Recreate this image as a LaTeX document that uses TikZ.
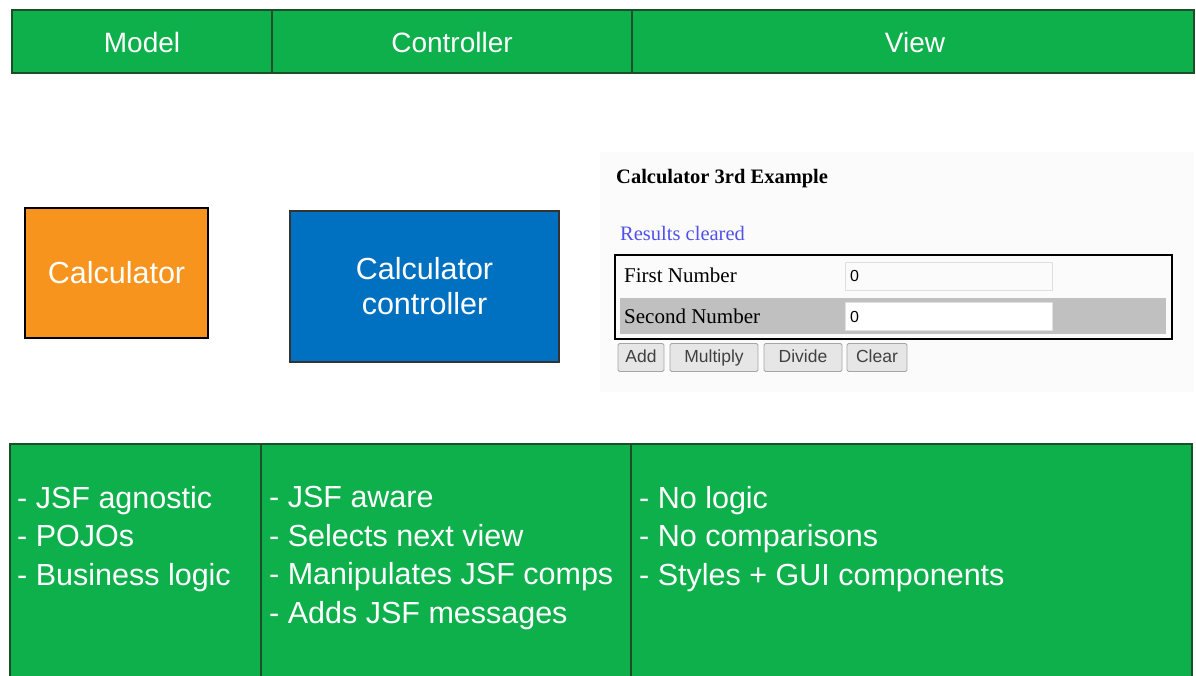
\documentclass[tikz,border=0pt]{standalone}
\usepackage{fontspec}
\setmainfont{Liberation Sans}
\newfontfamily\serifshot{Liberation Serif}
\definecolor{mvcgreen}{RGB}{14,176,75}
\definecolor{mvcedge}{RGB}{28,78,42}
\definecolor{calcorange}{RGB}{247,148,30}
\definecolor{calcblue}{RGB}{0,112,192}
\definecolor{shotbg}{RGB}{251,251,251}
\definecolor{rowgrey}{RGB}{192,192,192}
\definecolor{linkblue}{RGB}{80,80,235}
\definecolor{btnfill}{RGB}{230,230,230}
\begin{document}
\begin{tikzpicture}[x=1pt,y=-1pt,
  bar/.style={fill=mvcgreen,draw=mvcedge,line width=1.6pt},
  headtxt/.style={text=white,font=\fontsize{28}{32}\selectfont,inner sep=0pt},
  listtxt/.style={text=white,font=\fontsize{30.5}{38.5}\selectfont,align=left,anchor=north west,inner sep=0pt},
  boxtxt/.style={text=white,font=\fontsize{30.5}{35}\selectfont,align=center},
  shottxt/.style={font=\serifshot\fontsize{21}{22}\selectfont,inner sep=0pt,anchor=base west},
  btn/.style={fill=btnfill,draw=gray!70,line width=0.8pt,rounded corners=1.5pt,font=\fontsize{17.5}{18}\selectfont,text=black!75,inner sep=0pt,text height=12.5pt,text depth=3.5pt},
  field/.style={draw=gray!25,line width=0.8pt}]
\useasboundingbox (0,0) rectangle (1196,676);
\fill[white] (0,0) rectangle (1196,676);

% top header bar
\draw[bar] (12,10) rectangle (1194,73);
\draw[mvcedge,line width=1.6pt] (272,10) -- (272,73);
\draw[mvcedge,line width=1.6pt] (632,10) -- (632,73);
\node[headtxt] (hmodel) at (142,42) {Model};
\node[headtxt] (hctrl) at (452,42) {Controller};
\node[headtxt] (hview) at (915,42) {View};

% model and controller boxes
\node[fill=calcorange,draw=black,line width=1.6pt,minimum width=183pt,minimum height=130pt,boxtxt] (calc) at (116.5,273) {Calculator};
\node[fill=calcblue,draw=black!80,line width=1.6pt,minimum width=269pt,minimum height=151pt,boxtxt] (ctrl) at (424.5,286.5) {Calculator\\controller};

% view screenshot
\fill[shotbg] (600,152) rectangle (1194,392);
\node[shottxt,font=\serifshot\bfseries\fontsize{20.5}{22}\selectfont] (title) at (616,184) {Calculator 3rd Example};
\node[shottxt,font=\serifshot\fontsize{20.5}{22}\selectfont,text=linkblue] (msg) at (620,241) {Results cleared};
\fill[rowgrey] (620,298) rectangle (1166,334);
\draw[field,fill=white!97!gray] (845,262) rectangle (1052,290);
\draw[field,fill=white] (845,302) rectangle (1052,330);
\draw[black,line width=2.6pt] (615,255) rectangle (1172,339);
\node[shottxt] (first) at (624,283) {First Number};
\node[shottxt] (second) at (624,323) {Second Number};
\node[shottxt,font=\fontsize{16}{18}\selectfont] (v1) at (850,282) {0};
\node[shottxt,font=\fontsize{16}{18}\selectfont] (v2) at (850,322) {0};
\node[btn,minimum width=46pt,minimum height=28pt] (badd) at (641,357.5) {Add};
\node[btn,minimum width=88pt,minimum height=28pt] (bmul) at (714,357.5) {Multiply};
\node[btn,minimum width=78pt,minimum height=28pt] (bdiv) at (803,357.5) {Divide};
\node[btn,minimum width=60pt,minimum height=28pt] (bclr) at (877,357.5) {Clear};

% bottom bar
\draw[bar] (10,444) rectangle (1192,690);
\draw[mvcedge,line width=1.6pt] (261,444) -- (261,676);
\draw[mvcedge,line width=1.6pt] (631,444) -- (631,676);
\node[listtxt] (lmodel) at (17,486) {- JSF agnostic\\- POJOs\\- Business logic};
\node[listtxt] (lctrl) at (269,486) {- JSF aware\\- Selects next view\\- Manipulates JSF comps\\- Adds JSF messages};
\node[listtxt] (lview) at (639,486) {- No logic\\- No comparisons\\- Styles + GUI components};
\end{tikzpicture}
\end{document}
